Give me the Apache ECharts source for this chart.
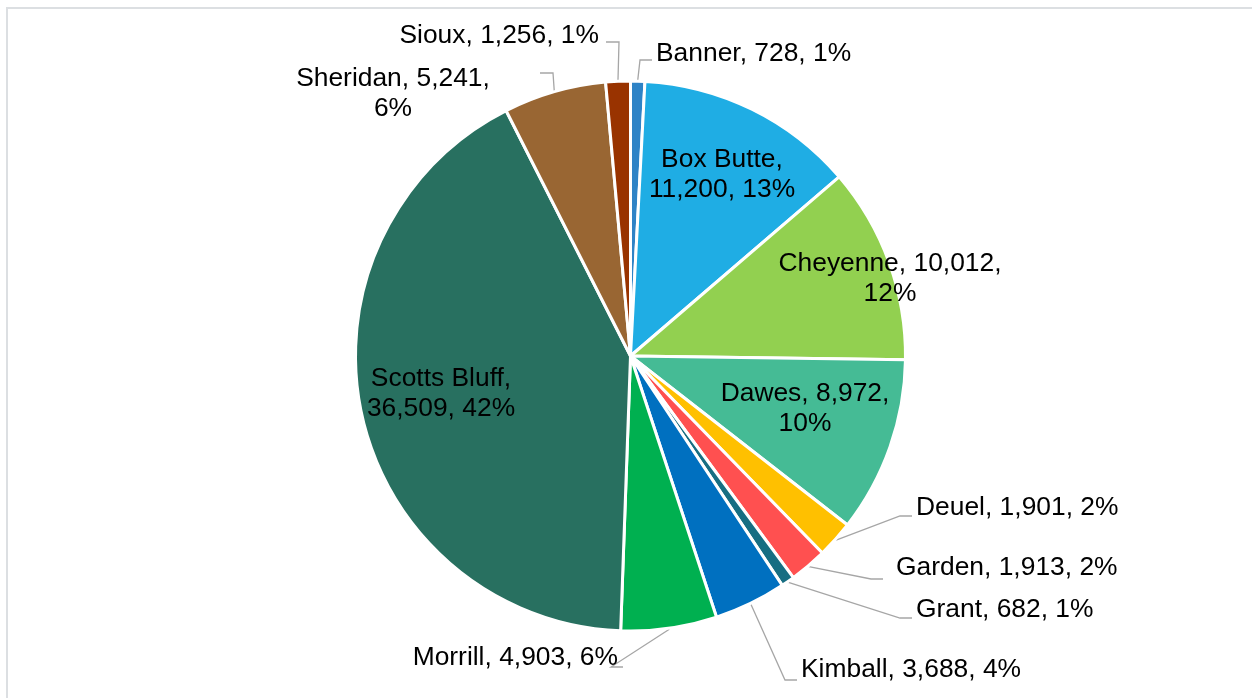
<!DOCTYPE html>
<html>
<head>
<meta charset="utf-8">
<script src="https://cdn.jsdelivr.net/npm/echarts@6/dist/echarts.min.js"></script>
<style>
  html, body { margin: 0; padding: 0; background: #fff; }
  #main { width: 1252px; height: 698px; }
</style>
</head>
<body>
<div id="main"></div>
<script>
  // county populations, clockwise from 12 o'clock
  var counties = ['Banner', 'Box Butte', 'Cheyenne', 'Dawes', 'Deuel', 'Garden',
                  'Grant', 'Kimball', 'Morrill', 'Scotts Bluff', 'Sheridan', 'Sioux'];
  var populations = [728, 11200, 10012, 8972, 1901, 1913, 682, 3688, 4903, 36509, 5241, 1256];
  var sliceColors = ['#2E83C6', '#1FADE4', '#92D050', '#45BB95', '#FFC000', '#FF5050',
                     '#176E82', '#0070C0', '#00B050', '#287060', '#996633', '#993300'];

  // where each label sits: [x, y, align, line end x, line end y, wrap]
  // wrap: 0 = one line, 1 = break after name, 2 = break after value
  var labelSpots = [
    [656, 54, 'left', 652, 60, 0],
    [722, 175, 'center', null, null, 1],
    [890, 279, 'center', null, null, 2],
    [805, 409, 'center', null, null, 2],
    [916, 508, 'left', 912, 516, 0],
    [896, 568, 'left', 883, 579, 0],
    [916, 610, 'left', 912, 618, 0],
    [801, 670, 'left', 797, 680, 0],
    [618, 658, 'right', 623, 667, 0],
    [441, 394, 'center', null, null, 1],
    [393, 94, 'center', 540, 73, 2],
    [599, 36, 'right', 606, 42, 0]
  ];

  var pieCenter = [630.5, 356];
  var pieRadius = 275;

  var total = populations.reduce(function (a, b) { return a + b; }, 0);
  var midAngles = [];
  var acc = 0;
  populations.forEach(function (v) {
    midAngles.push((acc + v / 2) / total * Math.PI * 2);
    acc += v;
  });

  var myChart = echarts.init(document.getElementById('main'));

  var seriesData = counties.map(function (name, i) {
    var item = { name: name, value: populations[i], itemStyle: { color: sliceColors[i] } };
    if (labelSpots[i][3] == null) {
      item.label = { position: 'inside' };
      item.labelLine = { show: false };
    }
    return item;
  });

  var option = {
    animation: false,
    backgroundColor: '#fff',
    graphic: [{
      type: 'polyline',
      shape: { points: [[7, 700], [7, 8], [1260, 8]] },
      style: { fill: null, stroke: '#DCDFE2', lineWidth: 2 },
      silent: true
    }],
    series: [{
      type: 'pie',
      center: pieCenter,
      radius: pieRadius,
      startAngle: 90,
      clockwise: true,
      avoidLabelOverlap: false,
      percentPrecision: 0,
      data: seriesData,
      itemStyle: { borderColor: '#fff', borderWidth: 3 },
      label: {
        show: true,
        position: 'outside',
        color: '#000',
        fontFamily: 'Liberation Sans, Arial, sans-serif',
        fontSize: 26.4,
        lineHeight: 30,
        formatter: function (p) {
          var val = p.value.toLocaleString('en-US');
          var pct = Math.round(p.percent) + '%';
          var wrap = labelSpots[p.dataIndex][5];
          if (wrap === 1) return p.name + ',\n' + val + ', ' + pct;
          if (wrap === 2) return p.name + ', ' + val + ',\n' + pct;
          return p.name + ', ' + val + ', ' + pct;
        }
      },
      labelLine: {
        show: true,
        lineStyle: { color: '#A6A6A6', width: 1.3 }
      },
      labelLayout: function (params) {
        var i = params.dataIndex;
        var s = labelSpots[i];
        var out = { x: s[0], y: s[1], align: s[2], verticalAlign: 'middle', moveOverlap: null };
        if (s[3] != null) {
          var a = midAngles[i];
          var p0 = [pieCenter[0] + (pieRadius + 1) * Math.sin(a),
                    pieCenter[1] - (pieRadius + 1) * Math.cos(a)];
          var leftSide = Math.sin(a) < 0;
          var elbow = [s[3] + (leftSide ? 13 : -12), s[4]];
          out.labelLinePoints = [p0, elbow, [s[3], s[4]]];
        }
        return out;
      }
    }]
  };

  myChart.setOption(option);
</script>
</body>
</html>
